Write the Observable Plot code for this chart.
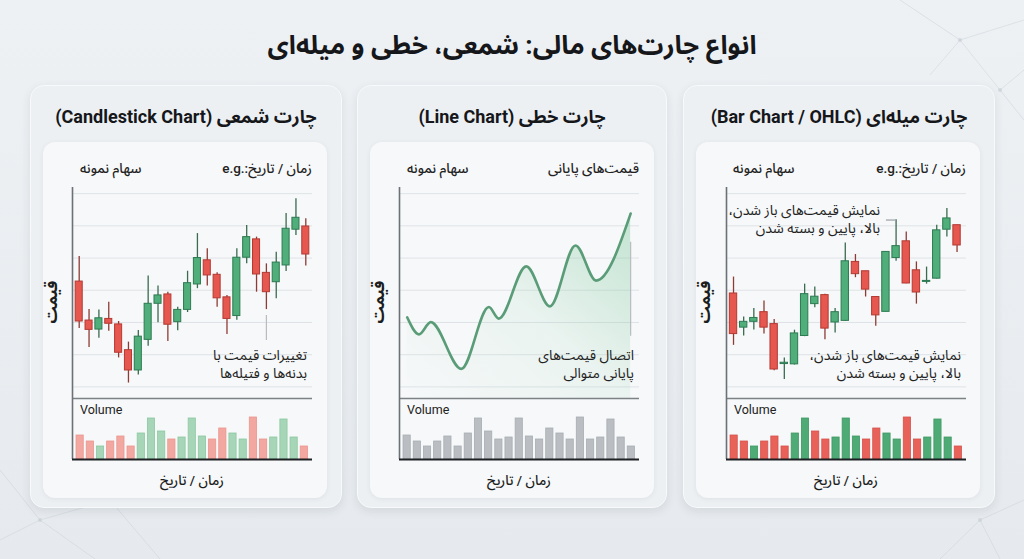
<!DOCTYPE html>
<html lang="fa">
<head>
<meta charset="utf-8">
<script src="https://cdn.jsdelivr.net/npm/d3@7"></script>
<script src="https://cdn.jsdelivr.net/npm/@observablehq/plot@0.6"></script>
<style>
 html,body{margin:0;padding:0;}
 body{width:1024px;height:559px;overflow:hidden;position:relative;
   background:linear-gradient(180deg,#eef1f4 0%,#e6eaee 100%);
   font-family:Roboto,"Noto Sans Arabic","DejaVu Sans",sans-serif;color:#1b1d20;}
 .a{position:absolute;white-space:nowrap;}
 .rtl{direction:rtl;}
 .title{left:0;width:1024px;top:28px;height:34px;line-height:34px;text-align:center;font-size:26px;font-weight:700;color:#15171a;}
 .card{top:85px;height:423px;border-radius:14px;background:#edf0f3;border:1px solid #f7f9fb;box-shadow:0 3px 10px rgba(40,50,60,.10);box-sizing:border-box}
 .inner{top:142px;height:356px;width:284px;border-radius:12px;background:#f6f8f9;box-shadow:0 1px 5px rgba(40,50,60,.08);}
 .ctitle{top:104px;height:26px;line-height:26px;text-align:center;font-size:18px;font-weight:700;color:#15171a;}
 .hdr{top:159px;height:18px;line-height:18px;font-size:13.5px;color:#222;font-weight:500;}
 .ylab{width:60px;height:20px;line-height:20px;text-align:center;font-size:16px;font-weight:700;transform:rotate(-90deg);}
 .vol{top:402px;font-size:12.5px;color:#222;line-height:16px}
 .xlab{top:471px;height:18px;line-height:18px;font-size:13.5px;font-weight:500;text-align:center;width:200px}
 .ann{font-size:14px;line-height:18px;text-align:right;color:#222;white-space:pre;}
 #deco{position:absolute;left:0;top:0;}
</style>
</head>
<body>
<svg id="deco" width="1024" height="559">
 <defs>
 <linearGradient id="linefill" x1="0" y1="1" x2="1" y2="0">
   <stop offset="0" stop-color="#7cc79a" stop-opacity="0"/>
   <stop offset="0.5" stop-color="#7cc79a" stop-opacity="0.10"/>
   <stop offset="1" stop-color="#7cc79a" stop-opacity="0.42"/>
 </linearGradient></defs>
 <g stroke="#c9d0d7" stroke-width="0.8" opacity="0.6" fill="none">
   <path d="M900 0 L960 40 L1024 20 M960 40 L1000 90 L1024 70 M960 40 L930 75 M1000 90 L1024 120"/>
   <path d="M0 470 L40 520 L95 559 M40 520 L0 540 M40 520 L110 500 L160 559 M110 500 L90 470"/>
   <path d="M980 520 L1024 500 M1000 559 L980 520 L940 559"/>
 </g>
 <g fill="#c9d0d7" opacity="0.7">
   <circle cx="960" cy="40" r="2"/><circle cx="1000" cy="90" r="2"/><circle cx="40" cy="520" r="2"/><circle cx="110" cy="500" r="2"/><circle cx="980" cy="520" r="2"/>
 </g>
</svg>
<script>
// ---------- DATA ----------
const mainTitle = "انواع چارت‌های مالی: شمعی، خطی و میله‌ای";
const panelTitles = ["چارت شمعی (Candlestick Chart)", "چارت خطی (Line Chart)", "چارت میله‌ای (Bar Chart / OHLC)"];
const headerRight = ["زمان / تاریخ:.e.g", "قیمت‌های پایانی", "زمان / تاریخ:.e.g"];
const headerLeft = "سهام نمونه";
const yLabel = "قیمت";
const xLabel = "زمان / تاریخ";
const volumeLabel = "Volume";
const candleNote = "تغییرات قیمت با\nبدنه‌ها و فتیله‌ها";
const lineNote = "اتصال قیمت‌های\nپایانی متوالی";
const ohlcNote = "نمایش قیمت‌های باز شدن،\nبالا، پایین و بسته شدن";

const priceTicks = [100, 110, 120, 130, 140, 150, 160];

// Candlestick panel (24 periods)
const candleOpen  = [132.7,120.6,117.8,121.1,119.4,111.4,105.1,114.6,125.8,128.7,120.1,123.9,131.8,139.3,134.8,127.8,122.0,140.1,145.8,135.4,132.5,137.7,148.8,149.8];
const candleHigh  = [140.5,124.0,123.9,126.3,120.3,113.9,117.5,134.4,131.3,129.4,124.7,135.9,147.6,142.9,135.4,128.4,142.9,150.1,146.5,138.2,141.8,153.8,158.4,152.2];
const candleLow   = [118.1,112.2,115.1,117.3,109.0,101.2,103.7,112.6,119.9,114.1,117.4,123.1,130.5,131.3,124.7,116.3,120.7,138.2,129.4,124.0,127.4,135.8,147.0,137.5];
const candleClose = [120.3,117.7,121.3,119.6,110.6,105.1,115.6,125.8,128.4,119.3,123.9,132.2,140.0,134.6,127.5,121.1,140.1,146.5,134.9,129.4,138.6,149.1,152.5,141.1];

// OHLC panel (23 periods)
const ohlcOpen  = [129.0,118.4,120.2,123.2,119.5,107.1,107.0,115.8,125.7,128.5,120.0,120.5,138.8,135.9,127.9,123.3,140.0,145.2,136.2,132.6,133.6,148.8,150.2];
const ohlcHigh  = [134.1,121.7,124.3,126.7,120.9,109.0,117.6,131.9,131.0,128.8,124.3,144.7,141.1,135.9,127.9,141.9,151.9,148.1,138.8,137.2,150.2,155.4,150.2];
const ohlcLow   = [112.9,115.8,117.7,116.4,105.0,102.3,106.8,115.6,124.6,114.6,116.7,120.3,133.9,127.9,118.8,123.3,139.0,132.0,125.7,131.9,133.5,146.5,141.7];
const ohlcClose = [116.4,120.2,121.4,118.4,105.4,107.5,116.6,128.8,128.0,118.1,123.2,139.0,135.0,130.2,122.2,141.9,143.7,132.1,129.3,132.9,148.6,152.3,143.9];

// Line panel: closing-price turning points
const lineTime  = [0.1, 1.3, 2.5, 5.6, 8.4, 9.4, 12.2, 14.6, 17.2, 19.3, 22.8];
const linePrice = [121.6,116.3,120.1,105.6,124.8,121.2,137.4,125.0,143.9,133.0,153.8];

// Volume (23 periods, same in all panels)
const volume = [24,18,13,18,23,13,26,41,28,20,22,41,23,20,31,26,20,42,20,22,40,22,13];
const volDirCandle = ["d","d","u","d","d","d","u","u","u","d","u","u","u","d","d","u","u","d","d","u","u","u","d"];
const volDirOhlc   = ["d","d","u","d","d","d","u","u","d","d","u","u","u","d","d","u","u","d","d","u","u","u","d"];

// annotation leader lines (data units)
const candleLeader = [{x: 19, y1: 122.2, y2: 114.4}];
const lineLeader = [{x: 22.8, y1: 144.9, y2: 115.7}];
const ohlcLeader = [{y: 151.8, x1: 15.05, x2: 16}];

// ---------- STYLE ----------
const RED = "#e5574f", RED_S = "#b33a33", RED_W = "#8e3b36";
const GREEN = "#4fae79", GREEN_S = "#2e7a52", GREEN_W = "#3a6b50";
const GRID = "#dfe3e7", AXIS = "#6d7175";
const cardX = [30, 357, 683], cardW = [312, 310, 312], axisOff = [42, 42, 43];
const PW = 240, PRICE_TOP = 187, PRICE_H = 211, VOL_TOP = 398, VOL_H = 61;
const priceDomain = [96.4, 161.9];
const volDomain = [0, 61];

function div(cls, txt, css) {
  const d = document.createElement("div");
  d.className = "a " + cls;
  d.textContent = txt;
  Object.assign(d.style, css);
  document.body.appendChild(d);
  return d;
}
function put(node, left, top) {
  node.style.position = "absolute";
  node.style.left = left + "px";
  node.style.top = top + "px";
  document.body.appendChild(node);
}

div("title rtl", mainTitle, {});

const candleRows = candleOpen.map((o, i) => ({i, open: o, high: candleHigh[i], low: candleLow[i], close: candleClose[i]}));
const ohlcRows = ohlcOpen.map((o, i) => ({i, open: o, high: ohlcHigh[i], low: ohlcLow[i], close: ohlcClose[i]}));
const lineRows = lineTime.map((t, i) => ({t, p: linePrice[i]}));
const volRows = dirs => volume.map((v, i) => ({i, v, dir: dirs ? dirs[i] : "n"}));

function candleMarks(rows) {
  const up = d => d.close >= d.open;
  return [
    Plot.ruleX(rows, {x: "i", y1: "low", y2: "high", stroke: d => up(d) ? GREEN_W : RED_W, strokeWidth: 1.3}),
    Plot.rect(rows, {x1: d => d.i - 0.5, x2: d => d.i + 0.5, insetLeft: 1.4, insetRight: 1.4,
      y1: "open", y2: "close", fill: d => up(d) ? GREEN : RED, stroke: d => up(d) ? GREEN_S : RED_S, strokeWidth: 1})
  ];
}

function pricePlot(xDomain, marks) {
  return Plot.plot({
    width: PW, height: PRICE_H, margin: 0,
    x: {domain: xDomain, axis: null},
    y: {domain: priceDomain, axis: null},
    color: {type: "identity"},
    style: {background: "transparent", overflow: "visible"},
    marks: [
      Plot.ruleY(priceTicks, {stroke: GRID, strokeWidth: 1}),
      ...marks,
      Plot.ruleY([priceDomain[0]], {stroke: "#7d8185", strokeWidth: 1.6}),
      Plot.ruleX([xDomain[0]], {stroke: AXIS, strokeWidth: 1.6})
    ]
  });
}

function volumePlot(rows, colorOf, strokeOf) {
  const xd = [-0.75, 22.8];
  return Plot.plot({
    width: PW, height: VOL_H, margin: 0,
    x: {domain: xd, axis: null},
    y: {domain: volDomain, axis: null},
    color: {type: "identity"},
    style: {background: "transparent", overflow: "visible"},
    marks: [
      Plot.rectY(rows, {x1: d => d.i - 0.5, x2: d => d.i + 0.5, insetLeft: 1.5, insetRight: 1.5, y: "v",
        fill: d => colorOf(d), stroke: d => strokeOf(d), strokeWidth: 0.8}),
      Plot.ruleX([xd[0]], {stroke: AXIS, strokeWidth: 1.6}),
      Plot.ruleY([0], {stroke: "#1e2124", strokeWidth: 2})
    ]
  });
}

const plotsFor = [
  () => ({
    price: pricePlot([-0.68, 23.68], [
      ...candleMarks(candleRows),
      Plot.ruleX(candleLeader, {x: "x", y1: "y1", y2: "y2", stroke: "#b7bcc1", strokeWidth: 1.2})
    ]),
    vol: volumePlot(volRows(volDirCandle), d => d.dir === "u" ? "#a6d6b7" : "#f2a8a1", d => d.dir === "u" ? "#8cc8a2" : "#eb958d")
  }),
  () => ({
    price: pricePlot([-0.68, 23.7], [
      Plot.areaY(lineRows, {x: "t", y1: priceDomain[0], y2: "p", curve: "monotone-x", fill: "url(#linefill)"}),
      Plot.ruleX(lineLeader, {x: "x", y1: "y1", y2: "y2", stroke: "#b7bcc1", strokeWidth: 1.2}),
      Plot.line(lineRows, {x: "t", y: "p", curve: "monotone-x", stroke: "#5a9c77", strokeWidth: 2.6})
    ]),
    vol: volumePlot(volRows(null), () => "#babec2", () => "#a8adb2")
  }),
  () => ({
    price: pricePlot([-0.69, 22.93], [
      ...candleMarks(ohlcRows),
      Plot.ruleY(ohlcLeader, {y: "y", x1: "x1", x2: "x2", stroke: "#9aa0a5", strokeWidth: 1.2})
    ]),
    vol: volumePlot(volRows(volDirOhlc), d => d.dir === "u" ? "#4fab75" : "#e9625a", d => d.dir === "u" ? "#3f9864" : "#d4524b")
  })
];

cardX.forEach((px, k) => {
  div("card", "", {left: px + "px", width: cardW[k] + "px"});
  div("inner", "", {left: (px + 13) + "px"});
  div("ctitle rtl", panelTitles[k], {left: px + "px", width: cardW[k] + "px"});
  const ax = px + axisOff[k];
  div("hdr rtl", headerRight[k], {right: (1024 - (ax + PW)) + "px"});
  div("hdr rtl", headerLeft, {left: (px + 50) + "px"});
  div("ylab rtl", yLabel, {left: (px + 22 - 30) + "px", top: (302 - 10) + "px"});
  div("vol", volumeLabel, {left: (ax + 8) + "px"});
  div("xlab rtl", xLabel, {left: (ax + PW / 2 - 100) + "px"});
  const p = plotsFor[k]();
  put(p.price, ax, PRICE_TOP);
  put(p.vol, ax, VOL_TOP);
});

div("ann rtl", candleNote, {right: (1024 - 307) + "px", top: "346px"});
div("ann rtl", lineNote, {right: (1024 - 634) + "px", top: "346px"});
div("ann rtl", ohlcNote, {right: (1024 - 880) + "px", top: "202px", lineHeight: "17.5px"});
div("ann rtl", ohlcNote, {right: (1024 - 961) + "px", top: "347px", lineHeight: "17.5px"});
</script>
</body>
</html>
